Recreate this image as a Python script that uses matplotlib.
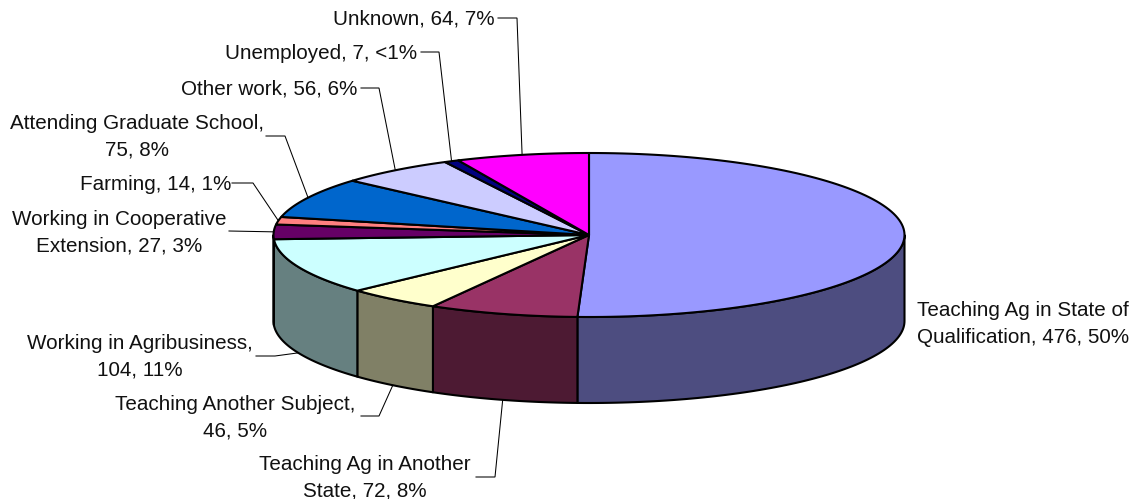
import numpy as np
import matplotlib
matplotlib.use("Agg")
import matplotlib.pyplot as plt
from matplotlib.patches import Polygon

categories = ["Teaching Ag in State of\nQualification", "Teaching Ag in Another\nState",
              "Teaching Another Subject,\n", "Working in Agribusiness,\n",
              "Working in Cooperative\nExtension", "Farming", "Attending Graduate School,\n",
              "Other work", "Unemployed", "Unknown"]
values = [476, 72, 46, 104, 27, 14, 75, 56, 7, 64]
pct_labels = ["50%", "8%", "5%", "11%", "3%", "1%", "8%", "6%", "<1%", "7%"]
colors = ["#9999FF", "#993366", "#FFFFCC", "#CCFFFF", "#660066",
          "#FF8080", "#0066CC", "#CCCCFF", "#000080", "#FF00FF"]

# pie geometry in pixels
CX, CY, RX, RY, DEPTH = 589.0, 235.0, 315.5, 82.0, 86.0
# label layout: (x, y, ha), elbow points of the leader
layout = [
    ((1023, 324, "center"), []),
    ((365, 478, "center"), [(476, 477), (495, 477)]),
    ((235, 418, "center"), [(361, 416), (379, 416)]),
    ((140, 357, "center"), [(256, 356), (275, 356)]),
    ((119, 233, "center"), [(229, 231)]),
    ((231, 184, "right"), [(232, 183), (253, 183)]),
    ((137, 137, "center"), [(266, 136), (285, 136)]),
    ((357, 89, "right"), [(361, 88), (379, 88)]),
    ((417, 53, "right"), [(421, 52), (439, 52)]),
    ((495, 19, "right"), [(498, 18), (517, 18)]),
]

plt.rcParams["font.family"] = ["Liberation Sans", "DejaVu Sans"]
fig = plt.figure(figsize=(11.35, 4.99), dpi=100)
ax = fig.add_axes([0, 0, 1, 1])
ax.set_xlim(0, 1135)
ax.set_ylim(499, 0)
ax.axis("off")


def rim(a, dz=0.0):
    a = np.radians(a)
    return np.column_stack([CX + RX * np.sin(a), CY - RY * np.cos(a) + dz])


def darker(c):
    return tuple(v * 0.5 for v in matplotlib.colors.to_rgb(c))


edges = np.concatenate([[0], np.cumsum(values)]) / sum(values) * 360.0
LW = 1.5

# side walls, only on the front half of the rim
for i, c in enumerate(colors):
    a0, a1 = max(edges[i], 90), min(edges[i + 1], 270)
    if a1 <= a0:
        continue
    t = np.linspace(a0, a1, 80)
    pts = np.vstack([rim(t), rim(t[::-1], DEPTH)])
    ax.add_patch(Polygon(pts, closed=True, fc=darker(c), ec="black", lw=LW, joinstyle="round", zorder=2))

# top faces
for i, c in enumerate(colors):
    t = np.linspace(edges[i], edges[i + 1], 120)
    pts = np.vstack([[[CX, CY]], rim(t)])
    ax.add_patch(Polygon(pts, closed=True, fc=c, ec="black", lw=LW, joinstyle="round", zorder=3))

# labels and leaders
for i, (name, v, p) in enumerate(zip(categories, values, pct_labels)):
    (x, y, ha), elbows = layout[i]
    if name.endswith(",\n"):
        txt = f"{name}{v}, {p}"
    else:
        txt = f"{name}, {v}, {p}"
    ax.text(x, y, txt, ha=ha, va="center", fontsize=14.9, color="#111111",
            linespacing=1.5, multialignment="center", zorder=5)
    if elbows:
        mid = (edges[i] + edges[i + 1]) / 2
        dz = DEPTH if 90 < mid < 262 else 0
        tip = rim(np.array([mid]), dz)[0]
        path = np.array(elbows + [tip])
        ax.plot(path[:, 0], path[:, 1], color="black", lw=0.75, solid_joinstyle="miter", zorder=4)

fig.savefig("out.png", dpi=100, facecolor="white")
